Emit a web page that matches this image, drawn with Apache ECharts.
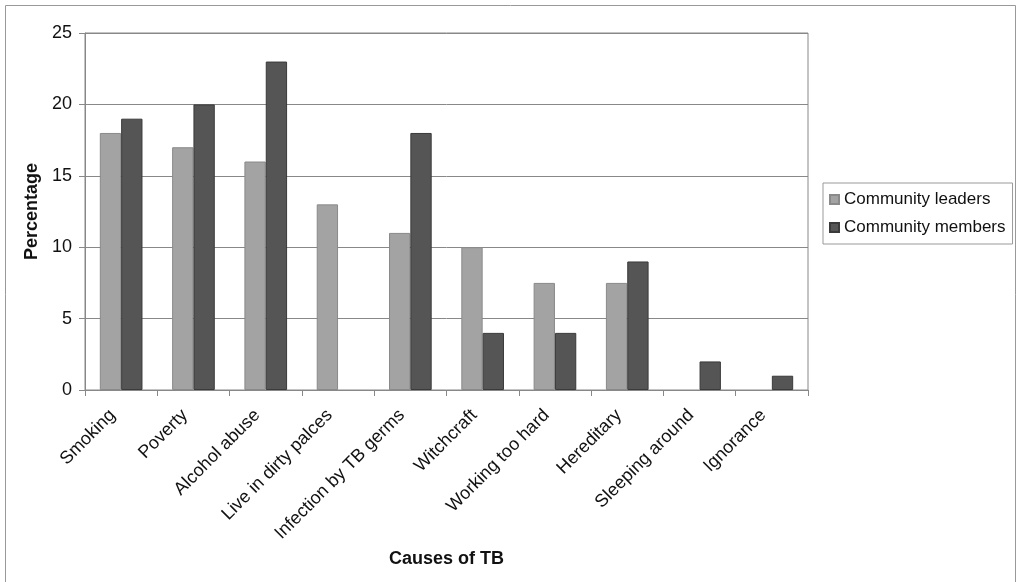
<!DOCTYPE html>
<html>
<head>
<meta charset="utf-8">
<script src="https://cdn.jsdelivr.net/npm/echarts@6/dist/echarts.min.js"></script>
<style>
  html, body { margin: 0; padding: 0; background: #fff; }
  #chart { width: 1018px; height: 582px; }
</style>
</head>
<body>
<div id="chart"></div>
<script>
// Causes of TB as reported by community leaders and members (percent)
const causes = [
  'Smoking', 'Poverty', 'Alcohol abuse', 'Live in dirty palces',
  'Infection by TB germs', 'Witchcraft', 'Working too hard',
  'Hereditary', 'Sleeping around', 'Ignorance'
];
const leaders = [18, 17, 16, 13, 11, 10, 7.5, 7.5, 0, 0];
const members = [19, 20, 23, 0, 18, 4, 4, 9, 2, 1];
const yTicks = [0, 5, 10, 15, 20, 25];

const font = 'Liberation Sans, Arial, sans-serif';

// zero values leave no outline on the baseline
function barData(values) {
  return values.map(v => v === 0 ? { value: v, itemStyle: { borderWidth: 0, opacity: 0 } } : v);
}

const chart = echarts.init(document.getElementById('chart'));

chart.setOption({
  animation: false,
  textStyle: { fontFamily: font },
  graphic: [{
    type: 'rect',
    shape: { x: 5.5, y: 5.5, width: 1010, height: 600 },
    style: { fill: 'none', stroke: '#999', lineWidth: 1 },
    silent: true
  }],
  legend: {
    orient: 'vertical',
    left: 823,
    top: 183,
    padding: [8, 7, 8, 6],
    itemGap: 11,
    itemWidth: 9,
    itemHeight: 9,
    borderColor: '#999',
    borderWidth: 1,
    textStyle: { fontSize: 17, color: '#111', fontFamily: font },
    icon: 'rect',
    data: ['Community leaders', 'Community members']
  },
  grid: {
    left: 85, right: 210, top: 33, bottom: 192,
    show: true, borderColor: '#888', borderWidth: 1,
    containLabel: false
  },
  xAxis: {
    type: 'category',
    data: causes,
    name: 'Causes of TB',
    nameLocation: 'middle',
    nameGap: 155,
    nameTextStyle: { fontSize: 18, fontWeight: 'bold', color: '#111', fontFamily: font },
    axisLine: { lineStyle: { color: '#888' } },
    axisTick: { show: true, length: 6, lineStyle: { color: '#888' } },
    axisLabel: {
      rotate: 45, fontSize: 18, color: '#111', margin: 14,
      padding: [0, 12, 0, 0],
      interval: 0, fontFamily: font
    }
  },
  yAxis: {
    type: 'value',
    min: yTicks[0], max: yTicks[yTicks.length - 1], interval: 5,
    name: 'Percentage',
    nameLocation: 'middle',
    nameGap: 37,
    nameTextStyle: { fontSize: 18, fontWeight: 'bold', color: '#111', fontFamily: font },
    axisLine: { show: true, lineStyle: { color: '#888' } },
    axisTick: { show: true, length: 6, lineStyle: { color: '#888' } },
    axisLabel: { fontSize: 18, color: '#111', margin: 13, fontFamily: font },
    splitLine: { lineStyle: { color: '#888' } }
  },
  series: [
    {
      name: 'Community leaders', type: 'bar', data: barData(leaders),
      barGap: '0%', barCategoryGap: '41%',
      itemStyle: { color: '#a3a3a3', borderColor: '#8a8a8a', borderWidth: 1 }
    },
    {
      name: 'Community members', type: 'bar', data: barData(members),
      itemStyle: { color: '#555555', borderColor: '#3a3a3a', borderWidth: 1 }
    }
  ]
});
</script>
</body>
</html>
